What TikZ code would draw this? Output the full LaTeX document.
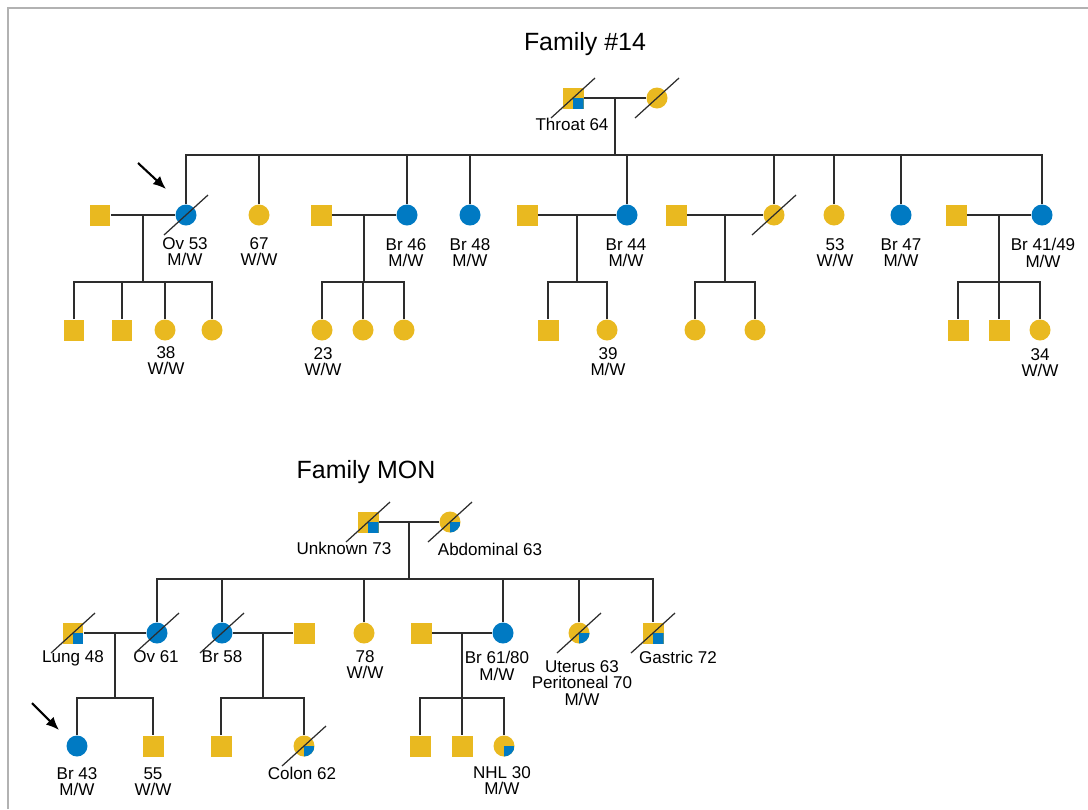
\documentclass[tikz,border=0pt]{standalone}
\usepackage{fontspec}
\setmainfont{Liberation Sans}
\usetikzlibrary{positioning, calc, arrows.meta}

\definecolor{gold}{RGB}{233,185,32}
\definecolor{cblue}{RGB}{0,122,195}
\definecolor{ink}{RGB}{45,45,45}

\begin{document}
\begin{tikzpicture}[x=0.02cm, y=-0.02cm]
    \tikzstyle{male} = [rectangle, fill=gold, minimum size=4.2mm, inner sep=0];
    \tikzstyle{female} = [circle, fill=gold, minimum size=4.2mm, inner sep=0];
    \tikzstyle{hit} = [fill=cblue];
    \tikzstyle{part} = [path picture={\fill[cblue] (path picture bounding box.center) rectangle (path picture bounding box.south east);}];
    \tikzstyle{link} = [draw=ink, line width=1.1pt];
    \tikzstyle{gone} = [draw=ink, line width=0.7pt];
    \tikzstyle{lab} = [anchor=north, inner sep=0, align=center, font=\fontsize{9.7}{9.4}\selectfont];
    \tikzstyle{title} = [anchor=base, inner sep=0, font=\fontsize{14.2}{17}\selectfont];
    \tikzstyle{pointer} = [draw=black, line width=1.2pt, -{Latex[length=2.6mm, width=2.2mm]}];

    \useasboundingbox (0,0) rectangle (1088,809);
    \draw[gray!60, line width=1.4pt] (8,809) -- (8,8) -- (1088,8);

    % Family #14
    \node[title] (t14) at (585,50) {Family \#14};
    \node[male, part] (gf14) at (573,98) {};
    \node[female] (gm14) at (657,98) {};
    \node[lab] (lgf14) at (572,118) {Throat 64};

    \node[male] (s1) at (100,215) {};
    \node[female, hit] (k1) at (186,215) {};
    \node[female] (k2) at (259,215) {};
    \node[male] (s3) at (321,215) {};
    \node[female, hit] (k3) at (407,215) {};
    \node[female, hit] (k4) at (470,215) {};
    \node[male] (s5) at (527,215) {};
    \node[female, hit] (k5) at (627,215) {};
    \node[male] (s6) at (676,215) {};
    \node[female] (k6) at (774,215) {};
    \node[female] (k7) at (834,215) {};
    \node[female, hit] (k8) at (901,215) {};
    \node[male] (s9) at (956,215) {};
    \node[female, hit] (k9) at (1042,215) {};

    \node[male] (g11) at (74,330) {};
    \node[male] (g12) at (122,330) {};
    \node[female] (g13) at (165,330) {};
    \node[female] (g14) at (212,330) {};
    \node[female] (g31) at (322,330) {};
    \node[female] (g32) at (363,330) {};
    \node[female] (g33) at (404,330) {};
    \node[male] (g51) at (548,330) {};
    \node[female] (g52) at (607,330) {};
    \node[female] (g61) at (695,330) {};
    \node[female] (g62) at (755,330) {};
    \node[male] (g91) at (958,330) {};
    \node[male] (g92) at (999,330) {};
    \node[female] (g93) at (1040,330) {};

    \node[lab] (lk1) at (185,237) {Ov 53\\M/W};
    \node[lab] (lk2) at (259,237) {67\\W/W};
    \node[lab] (lk3) at (406,238) {Br 46\\M/W};
    \node[lab] (lk4) at (470,238) {Br 48\\M/W};
    \node[lab] (lk5) at (626,238) {Br 44\\M/W};
    \node[lab] (lk7) at (835,238) {53\\W/W};
    \node[lab] (lk8) at (901,238) {Br 47\\M/W};
    \node[lab] (lk9) at (1043,238) {Br 41/49\\M/W};
    \node[lab] (lg13) at (166,346) {38\\W/W};
    \node[lab] (lg31) at (323,347) {23\\W/W};
    \node[lab] (lg52) at (608,347) {39\\M/W};
    \node[lab] (lg93) at (1040,348) {34\\W/W};

    \draw[link] (gf14) -- (gm14);
    \coordinate (d14) at ($(gf14.east)!.5!(gm14.west)$);
    \coordinate (s14) at (d14 |- 0,155);
    \draw[link] (d14) -- (s14);
    \draw[link] (k1.north) |- (s14) -| (k9.north);
    \foreach \k in {k2,k3,k4,k5,k6,k7,k8}
        \draw[link] (\k.north) -- (\k |- s14);

    \foreach \s/\k in {s1/k1, s3/k3, s5/k5, s6/k6, s9/k9} {
        \draw[link] (\s) -- (\k);
        \coordinate (d\k) at ($(\s.east)!.5!(\k.west)$);
        \coordinate (e\k) at (d\k |- 0,282);
        \draw[link] (d\k) -- (e\k);
    }
    \draw[link] (g11.north) |- (ek1) -| (g14.north);
    \draw[link] (g12.north) -- (g12 |- ek1);
    \draw[link] (g13.north) -- (g13 |- ek1);
    \draw[link] (g31.north) |- (ek3) -| (g33.north);
    \draw[link] (g32.north) -- (g32 |- ek3);
    \draw[link] (g51.north) |- (ek5) -| (g52.north);
    \draw[link] (g61.north) |- (ek6) -| (g62.north);
    \draw[link] (g91.north) |- (ek9) -| (g93.north);
    \draw[link] (g92.north) -- (g92 |- ek9);

    \draw[gone] (gf14.center) ++(-22,20) -- ++(44,-40);
    \draw[gone] (gm14.center) ++(-22,20) -- ++(44,-40);
    \draw[gone] (k1.center) ++(-22,20) -- ++(44,-40);
    \draw[gone] (k6.center) ++(-22,20) -- ++(44,-40);

    \coordinate (a14) at (138,163);
    \coordinate (b14) at (166,189);
    \draw[pointer] (a14) -- (b14);

    % Family MON
    \node[title] (tmon) at (366,478) {Family MON};
    \node[male, part] (gfM) at (368,522) {};
    \node[female, part] (gmM) at (450,522) {};
    \node[lab] (lgfM) at (344,542) {Unknown 73};
    \node[lab] (lgmM) at (490,543) {Abdominal 63};

    \node[male, part] (t1) at (73,633) {};
    \node[female, hit] (m1) at (157,633) {};
    \node[female, hit] (m2) at (222,633) {};
    \node[male] (t2) at (304,633) {};
    \node[female] (m3) at (364,633) {};
    \node[male] (t4) at (421,633) {};
    \node[female, hit] (m4) at (503,633) {};
    \node[female, part] (m5) at (579,633) {};
    \node[male, part] (m6) at (653,633) {};

    \node[female, hit] (h11) at (77,746) {};
    \node[male] (h12) at (153,746) {};
    \node[male] (h21) at (221,746) {};
    \node[female, part] (h22) at (304,746) {};
    \node[male] (h41) at (420,746) {};
    \node[male] (h42) at (462,746) {};
    \node[female, part] (h43) at (504,746) {};

    \node[lab] (lt1) at (73,650) {Lung 48};
    \node[lab] (lm1) at (156,650) {Ov 61};
    \node[lab] (lm2) at (222,650) {Br 58};
    \node[lab] (lm3) at (365,650) {78\\W/W};
    \node[lab] (lm4) at (497,651) {Br 61/80\\M/W};
    \node[lab] (lm5) at (582,660) {Uterus 63\\Peritoneal 70\\M/W};
    \node[lab] (lm6) at (678,651) {Gastric 72};
    \node[lab] (lh11) at (77,767) {Br 43\\M/W};
    \node[lab] (lh12) at (153,767) {55\\W/W};
    \node[lab] (lh22) at (302,767) {Colon 62};
    \node[lab] (lh43) at (502,766) {NHL 30\\M/W};

    \draw[link] (gfM) -- (gmM);
    \coordinate (dM) at ($(gfM.east)!.5!(gmM.west)$);
    \coordinate (sM) at (dM |- 0,579);
    \draw[link] (dM) -- (sM);
    \draw[link] (m1.north) |- (sM) -| (m6.north);
    \foreach \m in {m2,m3,m4,m5}
        \draw[link] (\m.north) -- (\m |- sM);

    \draw[link] (t1) -- (m1);
    \draw[link] (m2) -- (t2);
    \draw[link] (t4) -- (m4);
    \coordinate (dm1) at ($(t1.east)!.5!(m1.west)$);
    \coordinate (dm2) at ($(m2.east)!.5!(t2.west)$);
    \coordinate (dm4) at ($(t4.east)!.5!(m4.west)$);
    \foreach \d in {dm1,dm2,dm4} {
        \coordinate (e\d) at (\d |- 0,698);
        \draw[link] (\d) -- (e\d);
    }
    \draw[link] (h11.north) |- (edm1) -| (h12.north);
    \draw[link] (h21.north) |- (edm2) -| (h22.north);
    \draw[link] (h41.north) |- (edm4) -| (h43.north);
    \draw[link] (h42.north) -- (h42 |- edm4);

    \foreach \p in {gfM, gmM, t1, m1, m2, m5, m6, h22}
        \draw[gone] (\p.center) ++(-22,20) -- ++(44,-40);

    \coordinate (aM) at (32,703);
    \coordinate (bM) at (59,730);
    \draw[pointer] (aM) -- (bM);
\end{tikzpicture}
\end{document}
